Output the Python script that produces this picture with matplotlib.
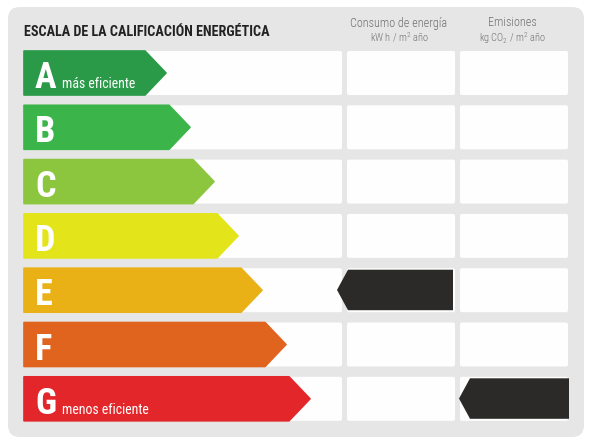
import matplotlib
matplotlib.use("Agg")
import matplotlib.pyplot as plt
from matplotlib.patches import FancyBboxPatch, Polygon

# ---- data ----
ratings = ["A", "B", "C", "D", "E", "F", "G"]
bar_colors = ["#2a9a48", "#3bb54a", "#8cc63f", "#e3e51a", "#eab116", "#e0641e", "#e3262a"]
bar_tips = [166, 190, 214, 238, 262, 286, 310]   # arrow length (tip x) per rating
rating_notes = {"A": "más eficiente", "G": "menos eficiente"}
title = "ESCALA DE LA CALIFICACIÓN ENERGÉTICA"
col_titles = ["Consumo de energía", "Emisiones"]
col_units = ["kW h / m$^2$ año", "kg CO$_2$ / m$^2$ año"]
consumption_rating = "E"
emission_rating = "G"

# ---- layout ----
W, H = 590, 442
fig = plt.figure(figsize=(W / 100, H / 100), dpi=100)
ax = fig.add_axes([0, 0, 1, 1])
ax.set_xlim(0, W)
ax.set_ylim(H, 0)
ax.axis("off")

COND = ["Roboto Condensed", "DejaVu Sans"]
plt.rcParams["mathtext.fontset"] = "custom"
plt.rcParams["mathtext.rm"] = "Roboto Condensed:light"
plt.rcParams["mathtext.it"] = "Roboto Condensed:light"

bg = FancyBboxPatch((14, 13), 564, 418, boxstyle="round,pad=6,rounding_size=12",
                    fc="#e6e6e6", ec="none")
ax.add_patch(bg)

ax.text(24, 35.5, title, fontsize=10.2, fontweight="bold", family=COND,
        color="#222222", va="baseline", ha="left")

cols = [(347, 455), (460, 568)]
for (c0, c1), t, u in zip(cols, col_titles, col_units):
    cx = (c0 + c1) / 2 - 2
    ax.text(cx, 26.5, t, fontsize=8.7, family=COND, fontweight="light",
            color="#707070", ha="center", va="baseline")
    ax.text(cx, 42, u, fontsize=7.5, family=COND, fontweight="light",
            color="#707070", ha="center", va="baseline")

top0, pitch, rh = 51, 54.3, 44
x0 = 24
row_right = 342
for i, (r, c, tip) in enumerate(zip(ratings, bar_colors, bar_tips)):
    y0 = top0 + i * pitch
    y1 = y0 + rh
    ym = (y0 + y1) / 2
    # white boxes
    ax.add_patch(FancyBboxPatch((x0 + 1, y0 + 1), row_right - x0 - 2, rh - 2,
                                boxstyle="round,pad=1,rounding_size=2", fc="#fefefe", ec="none"))
    for c0, c1 in cols:
        ax.add_patch(FancyBboxPatch((c0 + 1, y0 + 1), c1 - c0 - 2, rh - 2,
                                    boxstyle="round,pad=1,rounding_size=2", fc="#fefefe", ec="none"))
    # arrow
    d = rh / 2 - 1
    poly = Polygon([(x0, y0), (tip - d, y0), (tip, ym), (tip - d, y1), (x0, y1)],
                   closed=True, fc=c, ec=c, lw=1.2, joinstyle="round")
    ax.add_patch(poly)
    ax.text(35, y0 + 37, r, fontsize=26, fontweight="bold", family=COND,
            color="white", ha="left", va="baseline")
    if r in rating_notes:
        ax.text(62, y0 + 37, rating_notes[r], fontsize=10, family=COND,
                color="white", ha="left", va="baseline")

# markers
def marker(row_label, col_idx, shift):
    i = ratings.index(row_label)
    y0 = top0 + i * pitch + 1.5
    y1 = y0 + rh - 3.5
    ym = (y0 + y1) / 2
    c0, c1 = cols[col_idx]
    tipx = c0 - 10 + shift
    bx = c0 + 1 + shift
    right = c1 - 2 + (shift > 0) * 3
    ax.add_patch(Polygon([(tipx, ym), (bx, y0), (right, y0), (right, y1), (bx, y1)],
                         closed=True, fc="#2b2a29", ec="none"))

marker(consumption_rating, 0, 0)
marker(emission_rating, 1, 9)

fig.savefig("out.png", dpi=100)
